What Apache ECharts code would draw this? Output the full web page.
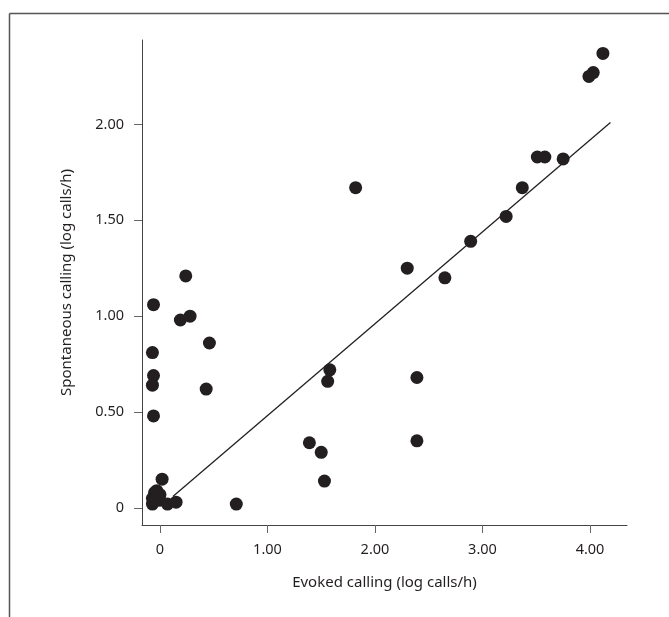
<!DOCTYPE html>
<html>
<head>
<meta charset="utf-8">
<script src="https://cdn.jsdelivr.net/npm/echarts@6/dist/echarts.min.js"></script>
<style>
  html, body { margin: 0; padding: 0; background: #fff; }
  #chart { width: 669px; height: 617px; }
</style>
</head>
<body>
<div id="chart"></div>
<script>
// evoked (x) vs spontaneous (y) calling, log calls/h
const evoked = [
  4.12, 4.03, 3.99, 3.58, 3.51, 3.75, 3.37, 3.22, 2.89, 1.82, 2.30, 2.65,
  1.58, 1.56, 2.39, 1.39, 1.50, 1.53, 2.39,
  0.24, -0.06, 0.19, 0.28, 0.46, -0.07, -0.06, -0.07, 0.43, -0.06,
  0.02, -0.07, -0.07, -0.05, -0.03, -0.02, 0.00, 0.00, -0.06, 0.07, 0.15, 0.71
];
const spontaneous = [
  2.37, 2.27, 2.25, 1.83, 1.83, 1.82, 1.67, 1.52, 1.39, 1.67, 1.25, 1.20,
  0.72, 0.66, 0.68, 0.34, 0.29, 0.14, 0.35,
  1.21, 1.06, 0.98, 1.00, 0.86, 0.81, 0.69, 0.64, 0.62, 0.48,
  0.15, 0.02, 0.05, 0.08, 0.09, 0.06, 0.04, 0.07, 0.03, 0.02, 0.03, 0.02
];
// fitted line end points
const fitLine = [[0.12, 0.06], [4.19, 2.01]];
const xTicks = [0, 1, 2, 3, 4];
const yTicks = [0, 0.5, 1, 1.5, 2];

const points = evoked.map((x, i) => [x, spontaneous[i]]);
const fmt = v => (v === 0 ? '0' : v.toFixed(2));
const tickTxt = { color: '#231f20', fontSize: 14.5, fontFamily: 'Noto Sans' };
const nameTxt = { color: '#231f20', fontSize: 15, fontFamily: 'Noto Sans' };

const chart = echarts.init(document.getElementById('chart'));
chart.setOption({
  animation: false,
  grid: { left: 142, top: 40, right: 42, bottom: 92 },
  graphic: [
    { type: 'line', shape: { x1: 9.5, y1: 13.5, x2: 669, y2: 13.5 }, style: { stroke: '#555', lineWidth: 1.5 } },
    { type: 'line', shape: { x1: 9.5, y1: 13.5, x2: 9.5, y2: 617 }, style: { stroke: '#555', lineWidth: 1.5 } }
  ],
  xAxis: {
    type: 'value',
    min: -0.167, max: 4.344,
    name: 'Evoked calling (log calls/h)',
    nameLocation: 'middle', nameGap: 50,
    nameTextStyle: nameTxt,
    axisLine: { show: true, onZero: false, lineStyle: { color: '#444', width: 1 } },
    axisTick: { show: true, length: 8, customValues: xTicks, lineStyle: { color: '#666' } },
    axisLabel: Object.assign({ margin: 17, customValues: xTicks, formatter: fmt }, tickTxt),
    splitLine: { show: false }
  },
  yAxis: {
    type: 'value',
    min: -0.089, max: 2.44,
    name: 'Spontaneous calling (log calls/h)',
    nameLocation: 'middle', nameGap: 68,
    nameTextStyle: nameTxt,
    axisLine: { show: true, onZero: false, lineStyle: { color: '#444', width: 1 } },
    axisTick: { show: true, length: 8, customValues: yTicks, lineStyle: { color: '#666' } },
    axisLabel: Object.assign({ margin: 18, customValues: yTicks, formatter: fmt }, tickTxt),
    splitLine: { show: false }
  },
  series: [
    {
      type: 'line',
      data: fitLine,
      symbol: 'none',
      lineStyle: { color: '#231f20', width: 1.3 },
      z: 1
    },
    {
      type: 'scatter',
      data: points,
      symbolSize: 13,
      itemStyle: { color: '#231f20', opacity: 1 },
      z: 2
    }
  ]
});
</script>
</body>
</html>
